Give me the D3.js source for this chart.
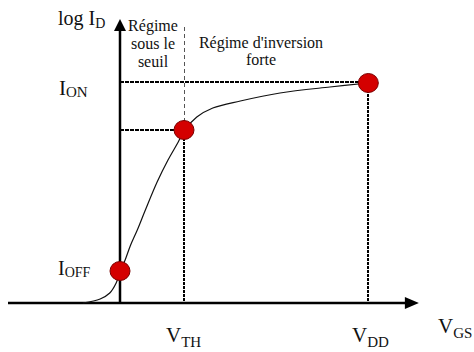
<!DOCTYPE html>
<html lang="fr">
<head>
  <meta charset="UTF-8">
  <title>log ID vs VGS</title>
  <style>
    body { margin: 0; background: #fff; }
    svg text { font-family: "Liberation Serif", "Times New Roman", serif; fill: #111; }
  </style>
</head>
<body>
  <script src="https://cdn.jsdelivr.net/npm/d3@7/dist/d3.min.js"></script>
  <script>
    // courbe log(ID) en fonction de VGS (unités arbitraires)
    var curveV = [-0.58, -0.31, -0.16, -0.06, 0, 0.08, 0.16, 0.27, 0.39, 0.58, 0.75, 0.91, 1.0, 1.2, 1.45, 1.88, 2.5, 3.28, 3.88];
    var curveI = [0, 0.4, 1.0, 2.0, 3.1, 4.3, 5.7, 7.3, 9.2, 12.1, 14.3, 16.1, 17.2, 18.6, 19.5, 20.2, 21.0, 21.6, 22.0];
    // points remarquables (IOFF, VTH, ION)
    var pointV = [0, 1.0, 3.88];
    var pointI = [3.2, 17.3, 22.0];
    var VTH = 1.0, VDD = 3.88, ION = 22.1;
    var serif = "'Liberation Serif', 'Times New Roman', serif";

    var width = 474, height = 352;
    var svg = d3.select("body").append("svg")
      .attr("width", width).attr("height", height);

    // échelles
    var x = d3.scaleLinear().domain([0, 1]).range([120, 184]);
    var y = d3.scaleLinear().domain([0, 10]).range([303, 203]);

    // axes
    var axisColor = "#000";
    svg.append("line")
      .attr("x1", x(-1.75)).attr("x2", x(4.5))
      .attr("y1", y(0)).attr("y2", y(0))
      .attr("stroke", axisColor).attr("stroke-width", 2.5);
    svg.append("line")
      .attr("x1", x(0)).attr("x2", x(0))
      .attr("y1", y(0)).attr("y2", y(27.2))
      .attr("stroke", axisColor).attr("stroke-width", 2.5);
    // flèches
    var xt = x(4.67), yt = y(0);
    svg.append("path")
      .attr("d", "M" + xt + "," + yt + " L" + (xt - 14) + "," + (yt - 6) + " L" + (xt - 14) + "," + (yt + 6) + " Z")
      .attr("fill", axisColor);
    var xa = x(0), ya = y(28.4);
    svg.append("path")
      .attr("d", "M" + xa + "," + ya + " L" + (xa - 6) + "," + (ya + 12) + " L" + (xa + 6) + "," + (ya + 12) + " Z")
      .attr("fill", axisColor);

    // lignes de repère
    function guide(x1, y1, x2, y2, w, dash, col) {
      svg.append("line")
        .attr("x1", x1).attr("x2", x2).attr("y1", y1).attr("y2", y2)
        .attr("stroke", col).attr("stroke-width", w)
        .attr("stroke-dasharray", dash)
        .attr("shape-rendering", "crispEdges");
    }
    guide(x(VTH), y(27.6), x(VTH), y(17.3), 1, "4,3", "#555");
    guide(x(VTH), y(17.3), x(VTH), y(0), 2, "3,1", "#000");
    guide(x(0), y(17.3), x(VTH), y(17.3), 2, "4,1", "#000");
    guide(x(0), y(ION), x(VDD), y(ION), 2, "4,1", "#000");
    guide(x(VDD), y(ION), x(VDD), y(0), 2, "3,1", "#000");

    // courbe
    var line = d3.line()
      .x(function(d) { return x(d[0]); })
      .y(function(d) { return y(d[1]); })
      .curve(d3.curveCatmullRom);
    svg.append("path")
      .datum(d3.zip(curveV, curveI))
      .attr("d", line)
      .attr("fill", "none")
      .attr("stroke", "#111")
      .attr("stroke-width", 1.2);

    // points
    svg.selectAll("ellipse.pt")
      .data(d3.zip(pointV, pointI))
      .enter().append("ellipse")
      .attr("class", "pt")
      .attr("cx", function(d) { return x(d[0]); })
      .attr("cy", function(d) { return y(d[1]); })
      .attr("rx", 10).attr("ry", 9.5)
      .attr("fill", "#d40000")
      .attr("stroke", "#7a0000").attr("stroke-width", 1);

    // étiquettes avec indice
    function label(px, py, main, sub, size, subSize, subDy) {
      var t = svg.append("text").attr("x", px).attr("y", py)
        .attr("font-family", serif).attr("font-size", size);
      t.append("tspan").text(main);
      t.append("tspan").attr("font-size", subSize).attr("dy", subDy).text(sub);
      return t;
    }
    label(58, 25, "log I", "D", 20, 14, 3);
    label(59, 95, "I", "ON", 21, 15, 2);
    label(58, 275, "I", "OFF", 20, 14, 2);
    label(166, 342, "V", "TH", 21, 15, 5);
    label(352, 342, "V", "DD", 21, 15, 5);
    label(438, 333, "V", "GS", 21, 15, 5);

    // régimes
    var reg1 = ["Régime", "sous le", "seuil"];
    svg.selectAll("text.r1")
      .data(reg1).enter().append("text")
      .attr("class", "r1")
      .attr("x", 153)
      .attr("y", function(d, i) { return 31 + i * 18; })
      .attr("text-anchor", "middle")
      .attr("font-family", serif)
      .attr("font-size", 16)
      .text(function(d) { return d; });
    var reg2 = ["Régime d'inversion", "forte"];
    svg.selectAll("text.r2")
      .data(reg2).enter().append("text")
      .attr("class", "r2")
      .attr("x", 261)
      .attr("y", function(d, i) { return 48 + i * 17; })
      .attr("text-anchor", "middle")
      .attr("font-family", serif)
      .attr("font-size", 16)
      .text(function(d) { return d; });
  </script>
</body>
</html>
